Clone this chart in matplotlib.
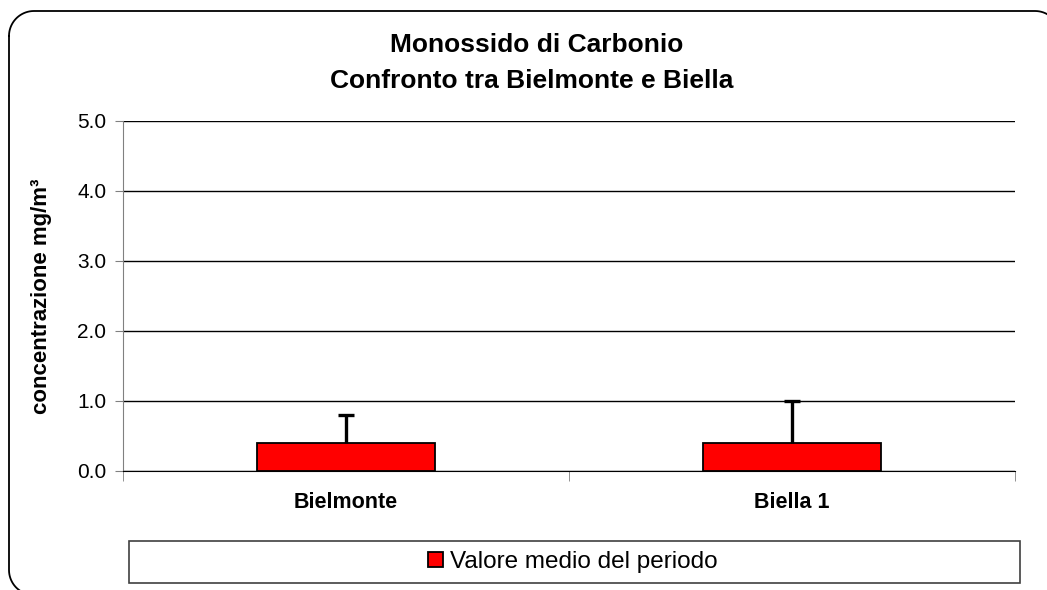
import numpy as np
import matplotlib.pyplot as plt
from matplotlib.patches import Rectangle

plt.rcParams['font.family'] = ['Liberation Sans', 'DejaVu Sans']

stations = ['Bielmonte', 'Biella 1']
mean_vals = [0.4, 0.4]
max_vals = [0.8, 1.0]
y_ticks = [0.0, 1.0, 2.0, 3.0, 4.0, 5.0]
title_lines = ['Monossido di Carbonio', 'Confronto tra Bielmonte e Biella']

W, H = 1047, 590
fig = plt.figure(figsize=(W / 100, H / 100), dpi=100)

# background axes in pixel units for the border and the legend frame
bg = fig.add_axes([0, 0, 1, 1])
bg.set_xlim(0, W)
bg.set_ylim(H, 0)
bg.axis('off')


def rounded_outline(x0, y0, x1, y1, r):
    t = np.linspace(0, np.pi / 2, 20)
    pts = []
    # corners: top-left, top-right, bottom-right, bottom-left (y down)
    for cx, cy, a0 in [(x0 + r, y0 + r, np.pi), (x1 - r, y0 + r, 1.5 * np.pi),
                       (x1 - r, y1 - r, 0), (x0 + r, y1 - r, 0.5 * np.pi)]:
        a = a0 + t
        pts.append(np.column_stack([cx + r * np.cos(a), cy + r * np.sin(a)]))
    pts = np.vstack(pts + [pts[0][:1]])
    return pts[:, 0], pts[:, 1]


bx, by = rounded_outline(9, 11, 1060, 595, 25)
bg.plot(bx, by, color='black', lw=1.3)
bg.add_patch(Rectangle((129, 541), 1020 - 129, 42, facecolor='white',
                       edgecolor='#404040', lw=1.2))

ax = fig.add_axes([123 / W, 1 - 471 / H, (1015 - 123) / W, (471 - 121) / H])
ax.patch.set_alpha(0)

x = np.arange(len(stations))
mean_vals = np.array(mean_vals)
upper = np.array(max_vals) - mean_vals

ax.bar(x, mean_vals, width=0.4, color='#ff0000', edgecolor='black', lw=1.3,
       zorder=3, label='Valore medio del periodo')
eb = ax.errorbar(x, mean_vals, yerr=[np.zeros_like(upper), upper], fmt='none',
                 ecolor='black', elinewidth=2.4, capsize=6, capthick=2.4, zorder=4)
eb[1][0].set_visible(False)

ax.set_xlim(-0.5, len(stations) - 0.5)
ax.set_ylim(0, 5)
ax.set_yticks(y_ticks)
ax.set_yticklabels(['%.1f' % v for v in y_ticks])
ax.set_xticks(x)
ax.set_xticklabels(stations, fontweight='bold', fontsize=15.5)
ax.set_xticks(np.arange(-0.5, len(stations)), minor=True)
ax.tick_params(axis='x', which='major', length=0, pad=15)
ax.tick_params(axis='x', which='minor', length=7, color='#808080', direction='out')
ax.tick_params(axis='y', length=6, color='#808080', labelsize=15, pad=6)

ax.grid(axis='y', color='black', lw=1, zorder=0)
ax.set_axisbelow(True)
for s in ['top', 'right']:
    ax.spines[s].set_visible(False)
ax.spines['left'].set_color('#808080')
ax.spines['bottom'].set_color('black')

ax.set_ylabel('concentrazione mg/m³', fontweight='bold', fontsize=16)
ax.yaxis.set_label_coords(-71 / 892, 0.5)

fig.text(537 / W, 1 - 45 / H, title_lines[0], ha='center', va='center',
         fontweight='bold', fontsize=19)
fig.text(532 / W, 1 - 81 / H, title_lines[1], ha='center', va='center',
         fontweight='bold', fontsize=19)

h, l = ax.get_legend_handles_labels()
fig.legend(h, l, loc='center', bbox_to_anchor=(573 / W, 1 - 562 / H), frameon=False,
           fontsize=17.5, handlelength=0.6, handleheight=0.6, handletextpad=0.3)

fig.savefig('out.png', dpi=100)
